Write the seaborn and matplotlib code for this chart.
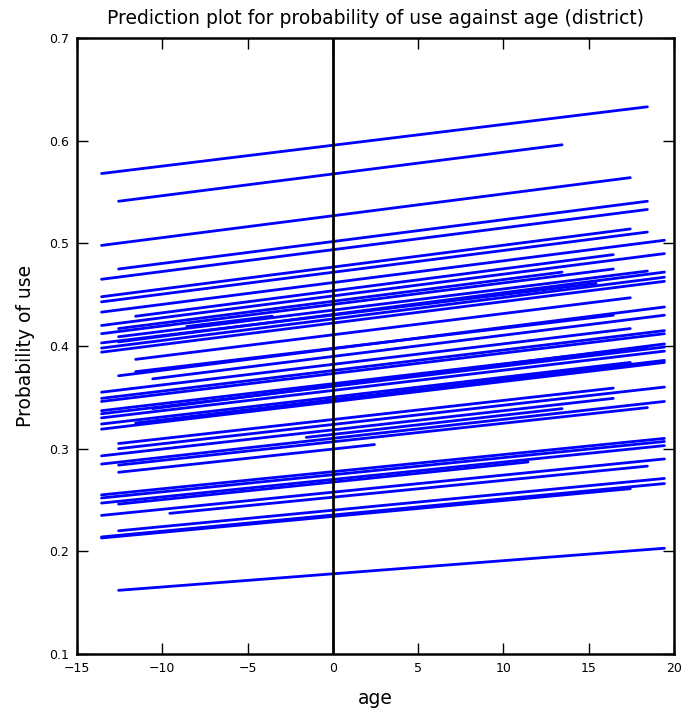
import numpy as np
import pandas as pd
import matplotlib
matplotlib.use("Agg")
import matplotlib.pyplot as plt
import seaborn as sns

# one fitted line per district: centred age range and predicted probability at both ends
age_start = [-13.56, -12.56, -13.56, -12.56, -13.56, -13.56, -13.56, -13.56, -11.56, -13.56,
             -12.56, -8.56, -13.56, -12.56, -13.56, -12.56, -13.56, -13.56, -11.56, -12.56,
             -11.56, -10.56, -13.56, -13.56, -13.56, -10.56, -13.56, -13.56, -13.56, -11.56,
             -13.56, -13.56, -12.56, -12.56, -13.56, -13.56, -1.56, -12.56, -12.56, -13.56,
             -13.56, -13.56, -12.56, -13.56, -9.56, -12.56, -13.56, -13.56, -12.56]
age_end = [18.44, 13.44, 17.44, 18.44, 18.44, 17.44, 18.44, 19.44, 16.44, 19.44,
           13.44, -3.56, 16.44, 18.44, 15.44, 19.44, 19.44, 19.44, 17.44, 19.44,
           16.44, 19.44, 17.44, 19.44, 19.44, 19.44, 18.44, 19.44, 19.44, 19.44,
           19.44, 17.44, 19.44, 16.44, 16.44, 19.44, 13.44, 18.44, 2.44, 19.44,
           19.44, 19.44, 11.44, 19.44, 18.44, 19.44, 19.44, 17.44, 19.44]
prob_start = [0.568, 0.541, 0.498, 0.475, 0.465, 0.448, 0.443, 0.433, 0.429, 0.420,
              0.417, 0.419, 0.412, 0.409, 0.403, 0.404, 0.398, 0.394, 0.387, 0.371,
              0.375, 0.368, 0.355, 0.349, 0.346, 0.339, 0.337, 0.334, 0.330, 0.325,
              0.319, 0.324, 0.300, 0.305, 0.293, 0.285, 0.311, 0.284, 0.277, 0.255,
              0.252, 0.247, 0.246, 0.235, 0.237, 0.220, 0.214, 0.213, 0.162]
prob_end = [0.633, 0.596, 0.564, 0.541, 0.533, 0.514, 0.511, 0.503, 0.489, 0.490,
            0.472, 0.429, 0.475, 0.473, 0.461, 0.472, 0.467, 0.463, 0.447, 0.438,
            0.430, 0.430, 0.417, 0.415, 0.412, 0.402, 0.399, 0.399, 0.395, 0.386,
            0.384, 0.384, 0.360, 0.359, 0.349, 0.346, 0.339, 0.340, 0.304, 0.310,
            0.307, 0.303, 0.287, 0.290, 0.283, 0.271, 0.266, 0.261, 0.203]

n = len(age_start)
df = pd.DataFrame({
    "district": np.tile(np.arange(n), 2),
    "age": age_start + age_end,
    "prob": prob_start + prob_end,
})

sns.set_style("white")
plt.rcParams.update({
    "xtick.direction": "in", "ytick.direction": "in",
    "xtick.top": True, "ytick.right": True,
    "xtick.bottom": True, "ytick.left": True,
    "xtick.major.size": 8, "ytick.major.size": 8,
    "xtick.major.width": 1, "ytick.major.width": 1,
    "axes.linewidth": 1.8, "axes.edgecolor": "black",
    "text.color": "black", "axes.labelcolor": "black",
})

fig = plt.figure(figsize=(6.83, 7.16), dpi=100)
ax = fig.add_axes([0.1127, 0.0866, 0.8741, 0.8603])
sns.lineplot(data=df, x="age", y="prob", units="district", estimator=None,
             color="#0000ff", lw=2, ax=ax, legend=False)
ax.axvline(0, color="black", lw=2)
ax.set_xlim(-15, 20)
ax.set_ylim(0.1, 0.7)
ax.set_xticks(np.arange(-15, 21, 5))
ax.set_yticks(np.arange(0.1, 0.71, 0.1))
ax.set_yticklabels([f"{v:.1f}" for v in np.arange(0.1, 0.71, 0.1)])
ax.tick_params(labelsize=9, pad=6, colors="black",
               bottom=True, left=True, top=True, right=True)
ax.set_xlabel("age", fontsize=13.5, labelpad=10)
ax.set_ylabel("Probability of use", fontsize=13.5, labelpad=10)
ax.set_title("Prediction plot for probability of use against age (district)",
             fontsize=13.5, pad=10)
plt.savefig("out.png", dpi=100)
